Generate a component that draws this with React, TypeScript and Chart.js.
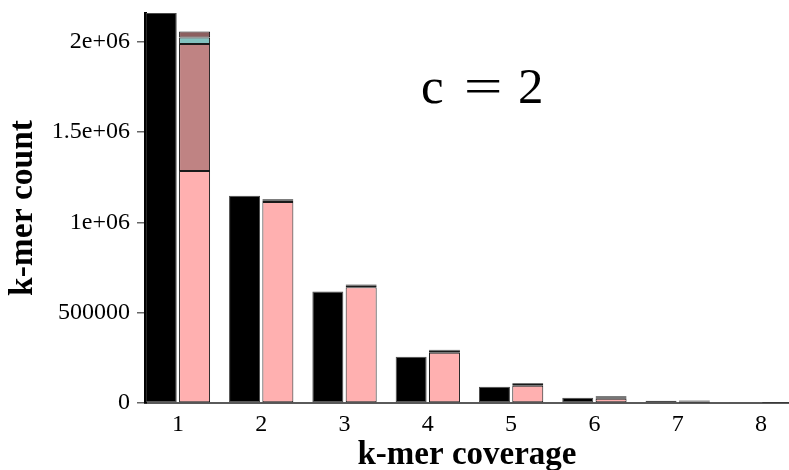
import React, { useEffect, useRef } from "react";
import { Chart, registerables } from "chart.js";

Chart.register(...registerables);

const coverage = [1, 2, 3, 4, 5, 6, 7, 8];
const observed = [2160000, 1148000, 617000, 256000, 90000, 29000, 13000, 5000];
const modelBase = [1285000, 1113000, 641000, 279000, 96000, 24000, 3000, 1000];
const modelSecond = [704000, 0, 0, 0, 0, 0, 0, 0];
const modelThird = [36000, 10000, 11000, 11000, 10000, 8000, 6000, 2500];
const modelFourth = [32000, 5000, 5000, 5000, 5000, 5000, 5000, 2000];
const yTicks = [0, 500000, 1000000, 1500000, 2000000];
const yTickLabels = ["0", "500000", "1e+06", "1.5e+06", "2e+06"];
const xTitle = "k-mer coverage";
const yTitle = "k-mer count";
const annotationParts = ["c", "=", "2"];

const SERIF = '"Liberation Serif", "Times New Roman", serif';

function toPoints(vals: number[]) {
  return coverage.map((x, i) => ({ x, y: vals[i] === 0 ? null : vals[i] }));
}

const annotationPlugin = {
  id: "cLabel",
  afterDraw(chart: any) {
    const ctx = chart.ctx as CanvasRenderingContext2D;
    ctx.save();
    ctx.fillStyle = "#000";
    ctx.font = `51px ${SERIF}`;
    ctx.textBaseline = "alphabetic";
    ctx.textAlign = "left";
    const baseY = 103;
    ctx.fillText(annotationParts[0], 421, baseY);
    ctx.save();
    ctx.translate(465, baseY);
    ctx.scale(1.35, 1);
    ctx.fillText(annotationParts[1], -1, 0);
    ctx.restore();
    ctx.fillText(annotationParts[2], 518, baseY);
    ctx.restore();
  },
};

export default function App() {
  const ref = useRef<HTMLCanvasElement | null>(null);

  useEffect(() => {
    if (!ref.current) return;
    const segBorder = "#1a1a1a";
    const chart = new Chart(ref.current, {
      type: "bar",
      data: {
        datasets: [
          {
            label: "observed",
            data: toPoints(observed) as any,
            backgroundColor: "#000000",
            borderColor: "#4a4a4a",
            borderWidth: 1,
            stack: "obs",
          },
          {
            label: "model 1",
            data: toPoints(modelBase) as any,
            backgroundColor: "#ffb0b0",
            borderColor: segBorder,
            borderWidth: 1,
            stack: "model",
          },
          {
            label: "model 2",
            data: toPoints(modelSecond) as any,
            backgroundColor: "#bf8383",
            borderColor: segBorder,
            borderWidth: 1,
            stack: "model",
          },
          {
            label: "model 3",
            data: toPoints(modelThird) as any,
            backgroundColor: "#82c2bf",
            borderColor: segBorder,
            borderWidth: 1,
            stack: "model",
          },
          {
            label: "model 4",
            data: toPoints(modelFourth) as any,
            backgroundColor: "#8c5f5f",
            borderColor: segBorder,
            borderWidth: 1,
            stack: "model",
          },
        ],
      },
      options: {
        animation: false,
        responsive: true,
        maintainAspectRatio: false,
        layout: { padding: { top: 13, left: 0, right: 0, bottom: 0 } },
        datasets: {
          bar: {
            categoryPercentage: 0.8,
            barPercentage: 0.93,
            borderSkipped: false,
          } as any,
        },
        plugins: {
          legend: { display: false },
          tooltip: { enabled: false },
          title: { display: false },
        },
        scales: {
          x: {
            type: "linear",
            min: 0.605,
            max: 8.336,
            offset: false,
            grid: { display: false, drawTicks: false },
            border: { display: true, color: "#5a5a5a", width: 2 },
            afterBuildTicks: (scale: any) => {
              scale.ticks = coverage.map((v) => ({ value: v }));
            },
            afterFit: (scale: any) => {
              scale.height = 67;
              scale.paddingLeft = 0;
              scale.paddingRight = 0;
            },
            ticks: {
              padding: 7,
              color: "#000",
              font: { family: SERIF, size: 24 },
              callback: (v: any) => String(v),
            },
            title: {
              display: true,
              text: xTitle,
              color: "#000",
              font: { family: SERIF, size: 33, weight: "bold" },
              padding: { top: 0, bottom: -5 },
            },
          },
          y: {
            type: "linear",
            min: 0,
            max: 2160000,
            stacked: true,
            grid: {
              display: true,
              drawOnChartArea: false,
              drawTicks: true,
              tickLength: 8,
              color: "#666",
              lineWidth: 1.5,
            },
            border: { display: true, color: "#000", width: 3 },
            afterBuildTicks: (scale: any) => {
              scale.ticks = yTicks.map((v) => ({ value: v }));
            },
            afterFit: (scale: any) => {
              scale.width = 145;
              scale.paddingTop = 0;
              scale.paddingBottom = 0;
            },
            ticks: {
              padding: 7,
              color: "#000",
              font: { family: SERIF, size: 24 },
              callback: (v: any) => {
                const i = yTicks.indexOf(Number(v));
                return i >= 0 ? yTickLabels[i] : "";
              },
            },
            title: {
              display: true,
              text: yTitle,
              color: "#000",
              font: { family: SERIF, size: 33.5, weight: "bold" },
              padding: { top: 3, bottom: 0 },
            },
          },
        },
      },
      plugins: [annotationPlugin],
    });
    return () => chart.destroy();
  }, []);

  return (
    <div
      style={{
        position: "fixed",
        left: 0,
        top: 0,
        width: 789,
        height: 470,
        background: "#fff",
      }}
    >
      <canvas ref={ref} />
    </div>
  );
}
